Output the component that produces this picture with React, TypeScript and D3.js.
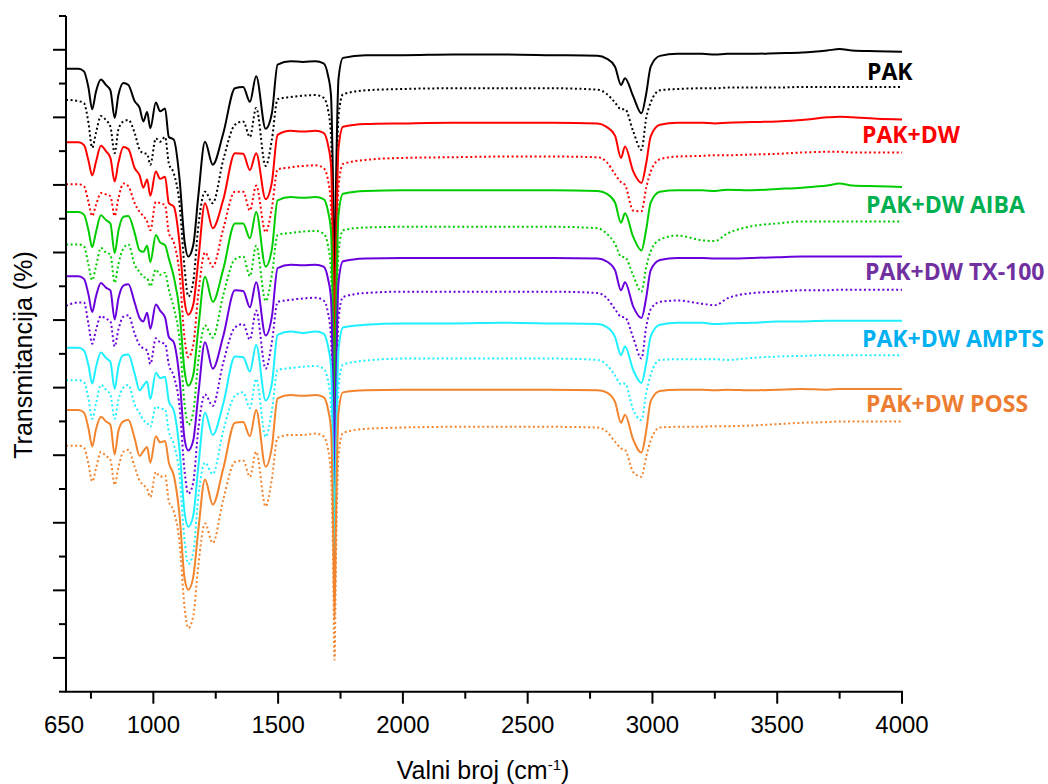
import React from "react";
import * as d3 from "d3";

const wavenumbers = [650,700,722,740,755,770,790,810,828,845,860,880,900,925,945,960,975,988,1010,1027,1047,1062,1082,1105,1125,1140,1160,1180,1207,1238,1280,1327,1360,1387,1412,1450,1475,1498,1550,1600,1650,1682,1700,1712,1720,1726,1732,1742,1760,1850,2000,2200,2400,2600,2780,2816,2850,2874,2890,2923,2956,2975,2993,3030,3100,3200,3250,3300,3400,3500,3600,3700,3750,3800,3900,4000];

const pakSolid = [92.2,92.2,91.8,89.4,86.2,88.8,90.6,89.8,89.0,84.9,88.3,90.1,89.8,87.4,86.4,84.4,85.8,83.4,87.2,85.9,86.3,82.1,81.7,75.9,66.7,64.4,66.1,73.3,81.4,78.0,82.6,89.3,89.5,87.3,91.1,83.3,85.6,92.8,93.3,93.2,93.3,93.0,91.2,88.2,75.2,60.2,75.2,90.7,93.8,94.2,94.2,94.3,94.3,94.2,94.1,93.7,92.5,89.8,90.8,88.1,85.6,88.5,92.5,94.1,94.4,94.4,94.3,94.4,94.4,94.5,94.6,94.9,95.1,94.9,94.8,94.7];
const pakDotted = [87.6,87.4,87.1,84.2,80.5,82.7,85.2,84.6,83.6,79.7,83.2,84.4,84.6,82.7,80.2,79.7,79.6,78.0,81.9,81.4,82.1,78.2,76.7,72.2,62.7,58.5,60.7,68.8,74.0,72.3,78.7,83.9,84.4,82.1,86.4,77.8,81.7,87.7,88.0,88.2,88.3,87.9,86.1,82.2,70.2,55.2,70.2,85.2,88.4,89.0,89.2,89.3,89.3,89.3,89.1,88.5,87.2,86.2,86.2,82.9,80.2,84.9,87.2,89.0,89.2,89.3,89.3,89.4,89.4,89.4,89.5,89.5,89.5,89.5,89.5,89.5];
const pakDwSolid = [81.3,81.3,80.9,78.6,76.4,78.4,80.8,80.0,79.0,75.5,78.3,80.6,80.3,77.5,76.4,74.6,75.8,73.4,77.0,75.9,76.2,72.3,71.8,66.4,57.8,55.8,57.3,63.8,72.3,68.6,72.8,79.7,79.6,77.2,79.7,72.9,75.4,82.4,83.0,82.9,83.0,82.7,80.9,77.9,64.9,49.9,64.9,80.4,83.6,84.0,84.1,84.2,84.2,84.2,84.1,83.6,82.3,79.0,80.7,77.0,75.3,78.2,82.2,83.9,84.2,84.2,84.1,84.2,84.3,84.4,84.6,85.0,85.1,85.0,84.8,84.7];
const pakDwDotted = [75.1,75.1,74.8,72.5,70.4,72.0,73.8,73.6,73.3,70.4,73.0,75.2,74.8,72.3,71.0,70.4,69.6,68.3,72.5,72.3,72.0,67.9,66.5,61.8,52.3,49.5,51.3,58.8,65.0,62.9,68.5,74.0,74.0,71.2,74.9,68.0,71.6,77.3,77.6,77.8,77.9,77.5,75.7,71.8,59.8,44.8,59.8,74.8,78.1,78.7,79.0,79.1,79.2,79.2,79.1,78.4,76.6,75.4,75.0,71.2,71.1,74.6,77.0,78.8,79.2,79.3,79.4,79.4,79.5,79.6,79.8,79.9,79.9,79.8,79.8,79.8];
const aibaSolid = [71.0,71.0,70.6,68.3,65.8,68.0,70.5,69.8,69.3,64.9,68.2,70.3,70.4,67.9,65.3,65.1,66.0,63.6,67.6,66.5,66.1,64.1,61.4,56.3,47.5,45.3,46.9,53.7,61.4,57.7,62.5,69.3,69.3,67.1,71.0,62.9,65.5,72.7,73.2,73.1,73.2,72.9,71.1,68.1,55.1,40.1,55.1,70.6,73.7,74.1,74.2,74.2,74.2,74.2,74.1,73.7,72.4,69.4,70.8,67.3,65.3,68.4,72.4,74.0,74.2,74.2,74.1,74.3,74.2,74.4,74.6,74.9,75.2,74.9,74.8,74.7];
const aibaDotted = [66.2,66.2,65.9,63.2,60.9,62.9,65.7,65.0,64.7,60.5,63.3,65.6,66.2,63.2,62.1,61.4,61.2,60.0,62.5,61.7,62.0,59.5,56.8,52.1,42.6,39.5,41.4,48.9,54.2,52.4,58.7,64.0,64.4,61.5,66.0,57.8,61.7,67.6,67.9,68.1,68.2,67.8,66.0,62.1,50.1,35.0,50.1,65.1,68.3,68.7,68.8,68.8,68.8,68.8,68.6,67.8,66.3,64.4,64.3,61.6,59.2,62.8,65.2,66.9,67.5,66.8,66.7,67.8,68.9,69.3,69.6,69.6,69.6,69.6,69.6,69.6];
const tx100Solid = [61.5,61.5,61.1,58.8,56.2,58.5,60.5,59.8,59.4,55.1,58.2,60.1,60.3,57.6,55.3,54.8,56.1,53.7,57.3,56.4,55.4,52.5,51.7,46.3,37.4,35.7,37.2,43.9,51.7,47.8,52.6,59.4,59.3,56.9,60.6,52.7,55.5,62.7,63.2,63.1,63.2,62.9,61.1,58.1,45.1,30.1,45.1,60.6,63.7,64.1,64.2,64.2,64.2,64.2,64.1,63.7,62.4,59.4,60.6,57.0,55.3,58.3,62.4,63.9,64.2,64.2,64.1,64.1,64.2,64.3,64.4,64.4,64.4,64.4,64.4,64.4];
const tx100Dotted = [57.1,57.6,57.6,54.4,51.5,53.5,55.6,55.2,54.8,51.1,53.6,55.5,55.7,53.0,51.3,50.8,50.5,48.5,52.3,51.7,51.5,48.4,46.7,42.2,32.7,29.3,31.0,38.8,44.0,42.3,48.7,53.9,54.4,52.1,56.4,47.8,51.7,57.7,58.0,58.2,58.3,57.9,56.1,52.2,40.2,25.0,40.2,55.2,58.4,59.0,59.2,59.2,59.2,59.2,59.0,58.3,56.6,55.5,55.4,52.4,49.3,54.0,56.6,57.7,57.9,57.4,57.2,58.2,59.0,59.2,59.4,59.4,59.5,59.5,59.5,59.5];
const amptsSolid = [50.9,50.9,50.5,48.3,45.6,48.0,50.2,49.4,48.8,44.8,48.1,49.8,49.9,47.1,44.6,45.3,45.9,43.3,47.2,46.4,46.6,43.0,41.6,35.8,26.6,24.4,26.1,33.2,41.3,38.0,42.6,49.6,49.5,47.4,51.3,43.1,45.6,52.8,53.3,53.1,53.3,53.0,51.1,48.1,35.1,20.0,35.1,50.6,53.9,54.3,54.5,54.5,54.6,54.5,54.4,54.0,52.5,49.8,51.1,47.6,45.7,48.6,52.6,54.3,54.6,54.6,54.4,54.5,54.6,54.8,54.8,54.9,54.9,54.9,54.9,54.9];
const amptsDotted = [46.1,46.1,45.8,43.4,40.4,42.6,45.4,44.7,43.9,40.4,43.2,45.0,45.4,42.5,41.2,40.2,39.8,39.2,42.2,41.9,41.8,38.5,36.6,32.1,22.4,18.9,20.6,28.7,33.9,32.2,38.6,43.8,44.3,42.0,46.3,37.7,41.6,47.6,47.9,48.1,48.2,47.8,46.0,42.1,30.1,14.6,30.1,45.1,48.4,49.0,49.3,49.3,49.3,49.3,49.1,48.4,46.8,45.5,45.6,41.7,40.2,44.2,46.9,49.1,49.2,49.2,49.2,49.1,49.4,49.6,49.7,49.8,49.8,49.8,49.8,49.8];
const possSolid = [41.7,41.7,41.3,39.0,36.3,38.8,40.7,40.0,39.5,35.1,38.6,40.0,40.2,37.5,34.9,35.6,36.2,33.9,37.8,36.9,37.1,33.9,32.0,26.1,16.8,15.1,17.0,23.8,31.4,27.7,33.0,39.8,39.9,37.8,41.7,33.3,36.2,43.4,43.9,43.8,43.9,43.6,41.8,38.8,25.8,10.6,25.8,41.3,44.3,44.6,44.7,44.7,44.7,44.7,44.6,44.3,42.9,39.8,41.0,37.3,35.4,38.6,43.0,44.5,44.7,44.7,44.6,44.7,44.6,44.7,44.8,44.7,44.8,44.8,44.8,44.8];
const possDotted = [36.4,36.4,36.1,33.7,31.1,33.0,35.5,34.9,34.3,30.6,33.2,35.5,35.8,33.3,31.2,30.6,30.0,28.8,32.5,31.8,32.0,28.2,26.7,22.0,12.5,9.4,11.2,18.6,24.9,22.0,28.4,34.0,34.2,31.8,35.5,27.4,31.5,37.6,38.0,38.0,38.2,37.8,35.9,32.0,20.0,4.7,20.0,35.0,38.3,38.9,39.1,39.2,39.2,39.2,39.1,38.5,37.0,36.0,35.8,32.5,31.8,34.8,37.2,39.1,39.2,39.2,39.3,39.3,39.4,39.6,39.8,39.9,40.0,40.0,40.0,40.0];

const sampleNames = ["PAK", "PAK+DW", "PAK+DW AIBA", "PAK+DW TX-100", "PAK+DW AMPTS", "PAK+DW POSS"];
const lineColors = ["#000000", "#ff0000", "#00cc00", "#6a00dc", "#1ff0ff", "#f2842e"];
const labelColors = ["#000000", "#ff0000", "#00b050", "#7030a0", "#00b0f0", "#ed7d31"];
const solidSeries = [pakSolid, pakDwSolid, aibaSolid, tx100Solid, amptsSolid, possSolid];
const dottedSeries = [pakDotted, pakDwDotted, aibaDotted, tx100Dotted, amptsDotted, possDotted];

const xMajorTicks = [1000, 1500, 2000, 2500, 3000, 3500, 4000];
const xMinorTicks = [750, 1250, 1750, 2250, 2750, 3250, 3750];
const xLabelTicks = [650, 1000, 1500, 2000, 2500, 3000, 3500, 4000];
const yMajorTicks = [5, 15, 25, 35, 45, 55, 65, 75, 85, 95];
const yMinorTicks = [0, 10, 20, 30, 40, 50, 60, 70, 80, 90, 100];

const labelPos = [
  [867, 80],
  [862, 143],
  [866, 213],
  [865, 280],
  [862, 347],
  [866, 412],
];

export default function App() {
  const left = 66, right = 902, top = 16, bottom = 691.7;
  const x = d3.scaleLinear().domain([650, 4000]).range([left, right]);
  const y = d3.scaleLinear().domain([0, 100]).range([bottom, top]);
  const line = d3
    .line<number>()
    .x((_, i) => x(wavenumbers[i]))
    .y((d) => y(d))
    .curve(d3.curveMonotoneX);

  const axisFont = "'Liberation Sans', Arial, sans-serif";

  return (
    <svg
      width={1048}
      height={784}
      style={{ position: "absolute", left: 0, top: 0, background: "#fff" }}
    >
      <rect x={0} y={0} width={1048} height={784} fill="#fff" />
      {solidSeries.map((s, k) => (
        <g key={k}>
          <path
            d={line(dottedSeries[k]) || ""}
            fill="none"
            stroke={lineColors[k]}
            strokeWidth={2}
            strokeDasharray="2 2.6"
          />
          <path
            d={line(s) || ""}
            fill="none"
            stroke={lineColors[k]}
            strokeWidth={2}
            strokeLinejoin="round"
          />
        </g>
      ))}
      <line x1={left} x2={left} y1={top} y2={bottom} stroke="#000" strokeWidth={2} />
      <line x1={left - 1} x2={right + 1} y1={bottom} y2={bottom} stroke="#000" strokeWidth={2} />
      {yMajorTicks.map((t) => (
        <line key={"ym" + t} x1={left - 13} x2={left} y1={y(t)} y2={y(t)} stroke="#000" strokeWidth={2} />
      ))}
      {yMinorTicks.map((t) => (
        <line key={"yn" + t} x1={left - 7} x2={left} y1={y(t)} y2={y(t)} stroke="#000" strokeWidth={2} />
      ))}
      {xMajorTicks.map((t) => (
        <line key={"xm" + t} x1={x(t)} x2={x(t)} y1={bottom} y2={bottom + 12} stroke="#000" strokeWidth={2} />
      ))}
      {xMinorTicks.map((t) => (
        <line key={"xn" + t} x1={x(t)} x2={x(t)} y1={bottom} y2={bottom + 7} stroke="#000" strokeWidth={2} />
      ))}
      {xLabelTicks.map((t) => (
        <text
          key={"xl" + t}
          x={x(t) - (t === 650 ? 2 : 0)}
          y={733}
          textAnchor="middle"
          fontFamily={axisFont}
          fontSize={24}
          fill="#000"
        >
          {t}
        </text>
      ))}
      <text x={483} y={779} textAnchor="middle" fontFamily={axisFont} fontSize={25} fill="#000">
        Valni broj (cm
        <tspan dy={-9} fontSize={15}>-1</tspan>
        <tspan dy={9}>)</tspan>
      </text>
      <text
        transform="translate(32,355) rotate(-90)"
        textAnchor="middle"
        fontFamily={axisFont}
        fontSize={25}
        fill="#000"
      >
        Transmitancija (%)
      </text>
      {sampleNames.map((n, k) => (
        <text
          key={n}
          x={labelPos[k][0]}
          y={labelPos[k][1]}
          fontFamily="'Open Sans', sans-serif"
          fontWeight={700}
          fontSize={23}
          fill={labelColors[k]}
        >
          {n}
        </text>
      ))}
    </svg>
  );
}
